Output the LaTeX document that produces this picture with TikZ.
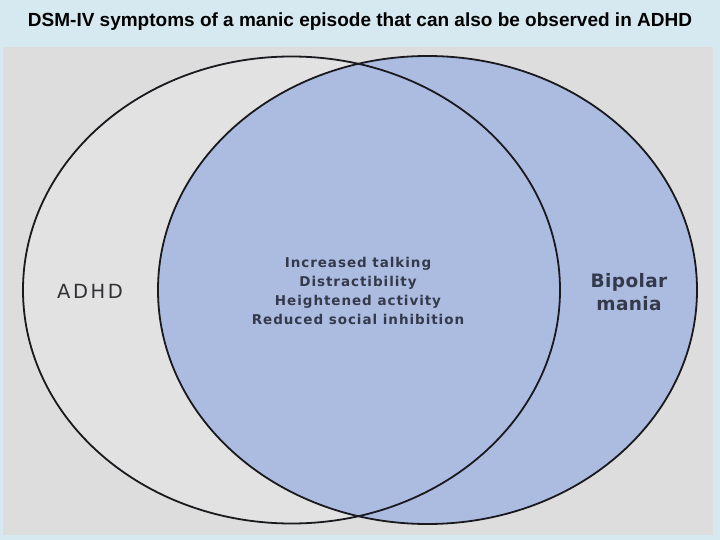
\documentclass[tikz,border=0pt]{standalone}
\usepackage{fontspec}
\setmainfont{Liberation Sans}
\newfontfamily\dejavub[LetterSpace=7]{DejaVu Sans Bold}
\newfontfamily\dejavubp[LetterSpace=2]{DejaVu Sans Bold}
\newfontfamily\dejavuw[LetterSpace=13]{DejaVu Sans}
\definecolor{framebg}{RGB}{214,233,241}
\definecolor{panelbg}{RGB}{221,221,221}
\definecolor{leftfill}{RGB}{226,226,226}
\definecolor{bluefill}{RGB}{172,188,225}
\definecolor{edgecol}{RGB}{25,25,30}
\definecolor{labelcol}{RGB}{50,50,54}
\definecolor{slate}{RGB}{52,58,75}
\tikzset{
  venn/.style={draw=edgecol, line width=1.8pt},
  titletext/.style={font=\fontsize{19}{22}\selectfont\bfseries, text=black},
  bigtext/.style={text=slate, align=center},
}
\begin{document}
\begin{tikzpicture}[x=1pt,y=-1pt]
  \useasboundingbox (0,0) rectangle (720,540);
  \fill[framebg] (0,0) rectangle (720,540);
  \fill[panelbg] (3,47) rectangle (713,535);
  % left ellipse (ADHD)
  \fill[leftfill] (291.5,290) ellipse [x radius=268.5, y radius=233.5];
  % right ellipse (Bipolar mania)
  \fill[bluefill] (427.5,290) ellipse [x radius=269.5, y radius=234];
  \draw[venn] (291.5,290) ellipse [x radius=268.5, y radius=233.5];
  \draw[venn] (427.5,290) ellipse [x radius=269.5, y radius=234];
  \node[titletext] (title) at (360,22) {DSM-IV symptoms of a manic episode that can also be observed in ADHD};
  \node[text=labelcol, font=\dejavuw\fontsize{19.5}{20}\selectfont] (adhd) at (90,291) {ADHD};
  \node[bigtext, font=\dejavubp\fontsize{18.5}{22.5}\selectfont] (bipolar) at (629,292) {Bipolar\\mania};
  \node[bigtext, font=\dejavub\fontsize{13.5}{19.3}\selectfont] (common) at (358,291)
    {Increased talking\\Distractibility\\Heightened activity\\Reduced social inhibition};
\end{tikzpicture}
\end{document}
